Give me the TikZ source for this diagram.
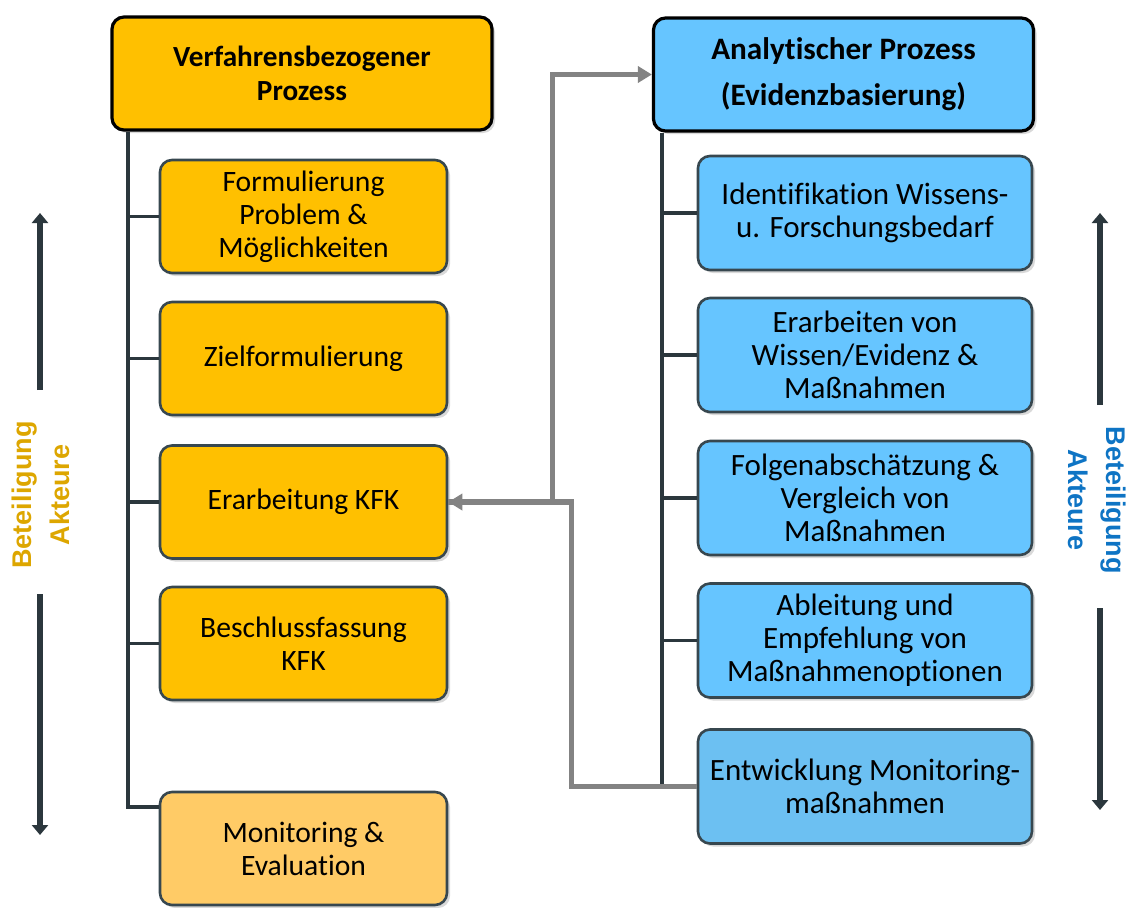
\documentclass[tikz,border=0pt]{standalone}
\usepackage{fontspec}
\setmainfont{Carlito}[Ligatures=NoCommon]
\newfontfamily\akteurfont{Liberation Sans}
\usetikzlibrary{calc,shadows,arrows.meta}
\definecolor{procorange}{HTML}{FFC000}
\definecolor{monorange}{HTML}{FFCB66}
\definecolor{anablue}{HTML}{66C5FF}
\definecolor{entblue}{HTML}{6CC0F2}
\definecolor{boxline}{HTML}{37474F}
\definecolor{trunkline}{HTML}{2B373D}
\definecolor{flowgray}{HTML}{838383}
\definecolor{akteurgold}{HTML}{DDA600}
\definecolor{akteurblue}{HTML}{0E74C4}

\begin{document}
\begin{tikzpicture}[x=0.5pt,y=-0.5pt,
                    box/.style={draw=boxline,line width=1.3pt,rounded corners=6pt,align=center,
                                drop shadow={opacity=0.3,shadow xshift=1.5pt,shadow yshift=-1.5pt},
                                font={\fontsize{14.8}{16.5}\selectfont},inner sep=2pt},
                    head/.style={box,draw=black,line width=1.6pt,minimum width=190pt,minimum height=56.5pt,
                                 font={\fontsize{14.6}{16.8}\selectfont\bfseries}},
                    stage/.style={box,fill=procorange,minimum width=143.5pt,minimum height=56.5pt},
                    anastage/.style={box,fill=anablue,minimum width=167pt,minimum height=57pt,
                                     font={\fontsize{15.5}{16.5}\selectfont}},
                    trunk/.style={trunkline,line width=2pt},
                    branch/.style={trunkline,line width=1.6pt},
                    flow/.style={flowgray,line width=2.6pt,-{Triangle[length=7pt,width=8pt]}},
                    sidearrow/.style={trunkline,line width=2.6pt,-{Triangle[length=5pt,width=8pt]}},
                    akteur/.style={align=center,font={\fontsize{13.5}{19}\selectfont\akteurfont\bfseries}}]
    \useasboundingbox (0,0) rectangle (1131,907);

    % Verfahrensbezogener Prozess
    \node[head,fill=procorange] (verf) at (302,73.5) {Verfahrensbezogener\\Prozess};
    \node[stage] (formul) at (303.5,216.5) {Formulierung\\Problem \&\\Möglichkeiten};
    \node[stage] (ziel) at (303.5,358.5) {Zielformulierung};
    \node[stage] (kfk) at (303.5,502) {Erarbeitung KFK};
    \node[stage] (beschl) at (303.5,643.5) {Beschlussfassung\\KFK};
    \node[stage,fill=monorange] (monit) at (303.5,848.5) {Monitoring \&\\Evaluation};

    % Analytischer Prozess
    \node[head,fill=anablue,font={\fontsize{15.6}{17}\selectfont\bfseries}] (ana) at (843.5,74.5)
        {Analytischer Prozess\\[6pt](Evidenzbasierung)};
    \node[anastage] (ident) at (865,213) {Identifikation Wissens-\\u. Forschungsbedarf};
    \node[anastage] (erarb) at (865,355) {Erarbeiten von\\Wissen/Evidenz \&\\Maßnahmen};
    \node[anastage] (folgen) at (865,498) {Folgenabschätzung \&\\Vergleich von\\Maßnahmen};
    \node[anastage] (ableit) at (865,640.5) {Ableitung und\\Empfehlung von\\Maßnahmenoptionen};
    \node[anastage,fill=entblue] (entw) at (865,786.5) {Entwicklung Monitoring-\\maßnahmen};

    % trunks
    \draw[trunk] ($ (verf.south west) + (18,0) $) |- ($ (monit.north west) + (0,16) $);
    \foreach \n in {formul,ziel,kfk,beschl}
        \draw[branch] (\n.west) -- ++(-30,0);
    \draw[trunk] ($ (ana.south west) + (10,0) $) |- (entw.west);
    \foreach \n in {ident,erarb,folgen,ableit}
        \draw[branch] (\n.west) -- ++(-34,0);

    % flows
    \draw[flow] (kfk.east) -- ++(104,0) |- (ana.west);
    \draw[flow] (entw.west) -- ++(-125,0) |- (kfk.east);

    % Beteiligung Akteure
    \node[akteur,text=akteurgold,rotate=90] (betL) at (41,495) {Beteiligung\\Akteure};
    \node[akteur,text=akteurblue,rotate=-90] (betR) at (1097,500) {Beteiligung\\Akteure};
    \draw[sidearrow] ($ (betL.center) + (-1,-105) $) -- ($ (betL.center) + (-1,-282) $);
    \draw[sidearrow] ($ (betL.center) + (-1,99) $) -- ($ (betL.center) + (-1,340) $);
    \draw[sidearrow] ($ (betR.center) + (3,-95) $) -- ($ (betR.center) + (3,-287) $);
    \draw[sidearrow] ($ (betR.center) + (3,108) $) -- ($ (betR.center) + (3,310) $);
\end{tikzpicture}
\end{document}
